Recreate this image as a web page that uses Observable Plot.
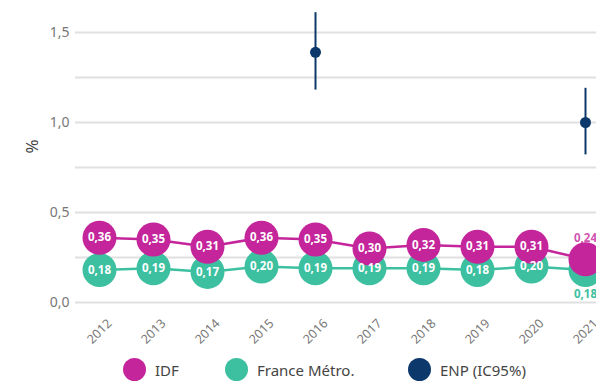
<!DOCTYPE html>
<html>
<head>
<meta charset="utf-8">
<script src="https://cdn.jsdelivr.net/npm/d3@7"></script>
<script src="https://cdn.jsdelivr.net/npm/@observablehq/plot@0.6"></script>
<style>
  html, body { margin: 0; padding: 0; background: #fff; overflow: hidden; width: 596px; height: 382px; }
  #legend { display: flex; align-items: center; height: 24px; font-family: "Noto Sans", sans-serif; font-size: 15px; color: #444; }
  .item { display: flex; align-items: center; position: absolute; }
  .sw { width: 23px; height: 23px; border-radius: 50%; margin-right: 9px; }
</style>
</head>
<body>
<div id="chart"></div>
<div id="legend" style="position:relative"></div>
<script>
const years = [2012, 2013, 2014, 2015, 2016, 2017, 2018, 2019, 2020, 2021];
const idfValues = [0.36, 0.35, 0.31, 0.36, 0.35, 0.30, 0.32, 0.31, 0.31, 0.24];
const franceValues = [0.18, 0.19, 0.17, 0.20, 0.19, 0.19, 0.19, 0.18, 0.20, 0.18];
const enpYears = [2016, 2021];
const enpValues = [1.39, 1.00];
const enpLow = [1.18, 0.82];
const enpHigh = [1.61, 1.19];
const yTicks = [0, 0.5, 1.0, 1.5];
const gridValues = [0, 0.25, 0.5, 0.75, 1.0, 1.25, 1.5];
const seriesNames = ["IDF", "France Métro.", "ENP (IC95%)"];
const colors = {IDF: "#c4259b", FR: "#3cc0a0", ENP: "#0c386b"};

const fmt = v => v.toFixed(2).replace(".", ",");
const idf = years.map((y, i) => ({year: y, v: idfValues[i]}));
const fr = years.map((y, i) => ({year: y, v: franceValues[i]}));
const enp = enpYears.map((y, i) => ({year: y, v: enpValues[i], lo: enpLow[i], hi: enpHigh[i]}));
const inner = d => d.year !== 2021;
const last = d => d.year === 2021;

const chart = Plot.plot({
  width: 596,
  height: 358,
  marginLeft: 75,
  marginRight: 0,
  marginTop: 0,
  marginBottom: 56,
  style: {fontFamily: "'Noto Sans', sans-serif", background: "#fff"},
  x: {type: "point", domain: years, range: [97, 587], padding: 0, axis: null},
  y: {domain: [0, 1.5], range: [302, 32], axis: null},
  marks: [
    Plot.ruleY(gridValues, {stroke: "#e0e0e0", strokeWidth: 2}),
    Plot.axisY({ticks: yTicks, tickSize: 0, tickPadding: 6, fontSize: 14, color: "#777",
      tickFormat: d => d.toFixed(1).replace(".", ","), label: null}),
    Plot.text(years, {x: d => d, y: () => 0, dy: 29, rotate: -45, text: d => String(d),
      fontSize: 12.5, fill: "#777", textAnchor: "middle"}),
    Plot.text(["%"], {frameAnchor: "left", dx: -43, dy: 2, rotate: -90, fontSize: 17, fill: "#444"}),
    Plot.line(fr, {x: "year", y: "v", stroke: colors.FR, strokeWidth: 2.5}),
    Plot.line(idf, {x: "year", y: "v", stroke: colors.IDF, strokeWidth: 2.5}),
    Plot.dot(fr, {x: "year", y: "v", r: 17, fill: colors.FR}),
    Plot.dot(idf, {x: "year", y: "v", r: 17, fill: colors.IDF}),
    Plot.text(fr, {filter: inner, x: "year", y: "v", text: d => fmt(d.v), fill: "white", fontWeight: "bold", fontSize: 11.5}),
    Plot.text(idf, {filter: inner, x: "year", y: "v", text: d => fmt(d.v), fill: "white", fontWeight: "bold", fontSize: 11.5}),
    Plot.text(idf, {filter: last, x: "year", y: "v", dy: -21, text: d => fmt(d.v), fill: colors.IDF, fontWeight: "bold", fontSize: 11.5, fillOpacity: 0.8}),
    Plot.text(fr, {filter: last, x: "year", y: "v", dy: 24, text: d => fmt(d.v), fill: colors.FR, fontWeight: "bold", fontSize: 11.5}),
    Plot.ruleX(enp, {x: "year", y1: "lo", y2: "hi", stroke: colors.ENP, strokeWidth: 2}),
    Plot.dot(enp, {x: "year", y: "v", r: 5.5, fill: colors.ENP})
  ]
});
document.getElementById("chart").appendChild(chart);

const legend = document.getElementById("legend");
const swColors = [colors.IDF, colors.FR, colors.ENP];
const lefts = [123, 225, 408];
seriesNames.forEach((name, i) => {
  const it = document.createElement("div");
  it.className = "item";
  it.style.left = lefts[i] + "px";
  it.style.top = "0px";
  it.innerHTML = `<div class="sw" style="background:${swColors[i]}"></div><span>${name}</span>`;
  legend.appendChild(it);
});
</script>
</body>
</html>
